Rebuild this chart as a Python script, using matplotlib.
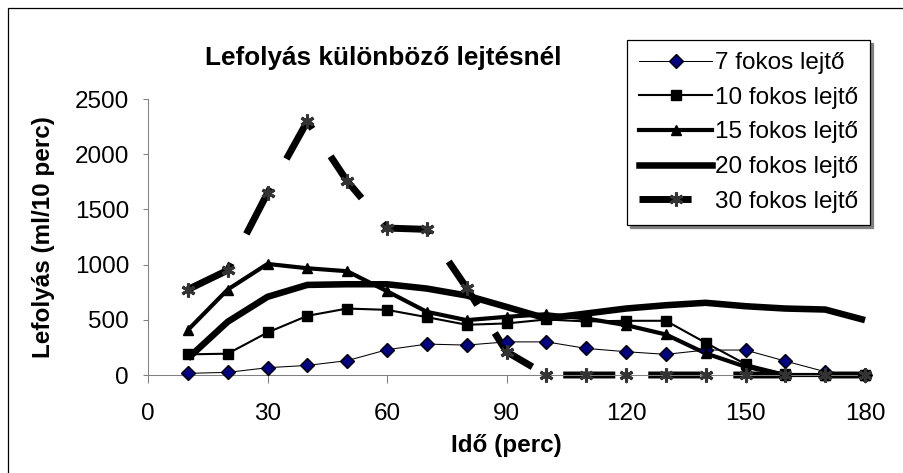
import matplotlib
matplotlib.use("Agg")
import matplotlib.pyplot as plt
from matplotlib.lines import Line2D
from matplotlib.patches import Rectangle

plt.rcParams['font.family'] = ['Liberation Sans', 'DejaVu Sans']

# ---- data ----
time_min = [10, 20, 30, 40, 50, 60, 70, 80, 90, 100, 110, 120, 130, 140, 150, 160, 170, 180]
s7 = [15, 24, 66, 87, 130, 229, 280, 271, 300, 300, 241, 211, 187, 226, 226, 126, 30, 0]
s10 = [187, 193, 385, 536, 602, 590, 524, 455, 467, 503, 485, 491, 491, 292, 99, 9, 0, 0]
s15 = [407, 774, 1006, 967, 940, 759, 572, 497, 527, 551, 512, 452, 367, 196, 75, 0, 0, 0]
s20 = [150, 482, 708, 816, 822, 822, 783, 720, 617, 512, 557, 602, 632, 654, 623, 602, 593, 497]
s30 = [774, 949, 1648, 2298, 1756, 1331, 1319, 789, 211, 0, 0, 0, 0, 0, 0, 0, 0, 0]
labels = ['7 fokos lejtő', '10 fokos lejtő', '15 fokos lejtő', '20 fokos lejtő', '30 fokos lejtő']
x_ticks = [0, 30, 60, 90, 120, 150, 180]
y_ticks = [0, 500, 1000, 1500, 2000, 2500]
title = 'Lefolyás különböző lejtésnél'
xlabel = 'Idő (perc)'
ylabel = 'Lefolyás (ml/10 perc)'

W, H = 904, 473
FS = 17.5
fig = plt.figure(figsize=(W / 100, H / 100), dpi=100)
ax = fig.add_axes([148 / W, 98 / H, (865 - 148) / W, (375 - 99) / H])

styles = [
    dict(color='black', lw=0.75, marker='D', ms=7, mfc='#000080', mec='black', mew=1.0, ls='-'),
    dict(color='black', lw=1.5, marker='s', ms=7, mfc='black', mec='black', mew=1.0, ls='-'),
    dict(color='black', lw=3.0, marker='^', ms=7, mfc='black', mec='black', mew=1.0, ls='-'),
    dict(color='black', lw=4.7, marker='None', ms=0, ls='-'),
    dict(color='black', lw=5.0, marker=(6, 2, 0), ms=10, mfc='#333333', mec='#333333', mew=2.2,
         ls=(0, (7.5, 4.75))),
]
series = [s7, s10, s15, s20, s30]

for i, (vals, st) in enumerate(zip(series, styles)):
    ax.plot(time_min, vals, color=st['color'], lw=st['lw'], ls=st['ls'],
            solid_capstyle='butt', dash_capstyle='butt', solid_joinstyle='round',
            zorder=2 + i * 0.1, clip_on=False)
for i, (vals, st) in enumerate(zip(series, styles)):
    if st['marker'] != 'None':
        ax.plot(time_min, vals, ls='None', marker=st['marker'], ms=st['ms'],
                mfc=st['mfc'], mec=st['mec'], mew=st['mew'], zorder=3 + i * 0.1, clip_on=False)

ax.set_xlim(0, 180)
ax.set_ylim(0, 2500)
ax.set_xticks(x_ticks)
ax.set_yticks(y_ticks)
ax.tick_params(axis='x', direction='out', length=5.8, width=0.75, color='#808080',
               labelsize=FS, pad=14)
ax.tick_params(axis='y', direction='out', length=3.6, width=0.75, color='#808080',
               labelsize=FS, pad=10)
for side in ['top', 'right']:
    ax.spines[side].set_visible(False)
for side in ['left', 'bottom']:
    ax.spines[side].set_color('#808080')
    ax.spines[side].set_linewidth(0.75)

fig.text(383 / W, 1 - 58 / H, title, ha='center', va='center', fontsize=18.8, fontweight='bold')
fig.text(506 / W, 1 - 445 / H, xlabel, ha='center', va='center', fontsize=FS, fontweight='bold')
fig.text(44 / W, 1 - 237 / H, ylabel, ha='center', va='center', rotation=90,
         fontsize=FS, fontweight='bold')

handles = []
for st in styles:
    handles.append(Line2D([], [], color=st['color'], lw=st['lw'], ls=st['ls'],
                          marker=st['marker'], ms=st.get('ms', 0),
                          mfc=st.get('mfc', 'black'), mec=st.get('mec', 'black'),
                          mew=st.get('mew', 1.0), dash_capstyle='butt'))
leg = fig.legend(handles, labels, loc='upper left', bbox_to_anchor=(627 / W, 1 - 40 / H),
                 bbox_transform=fig.transFigure, borderaxespad=0, fontsize=FS,
                 frameon=True, fancybox=False, framealpha=1, edgecolor='black',
                 handlelength=3.0, handletextpad=0.12, labelspacing=0.52, borderpad=0.5,
                 numpoints=1, shadow={'color': '#808080', 'alpha': 1})
leg.get_frame().set_linewidth(0.9)

fig.add_artist(Rectangle((8 / W, -0.05), 1.05, (H - 8) / H + 0.05, transform=fig.transFigure,
                         fill=False, edgecolor='black', lw=0.9))

fig.savefig('out.png', dpi=100)
